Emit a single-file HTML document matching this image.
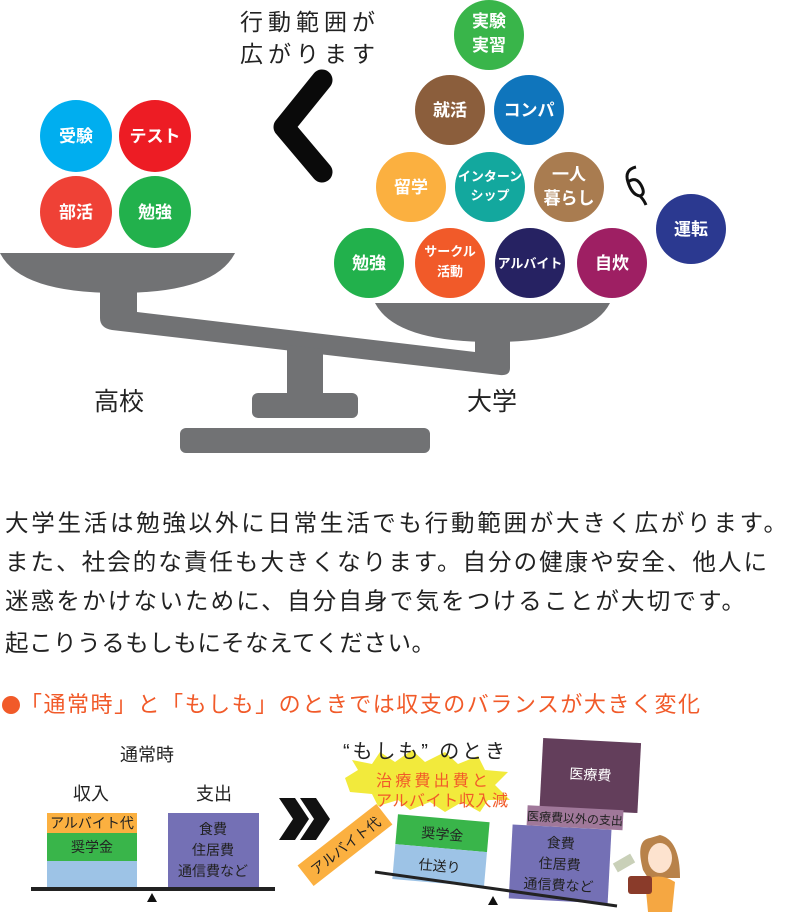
<!DOCTYPE html>
<html><head><meta charset="utf-8"><style>
html,body{margin:0;padding:0;background:#fff;}
svg{display:block;}
text{font-family:"Liberation Sans","Noto Sans CJK JP",sans-serif;}
</style></head><body>
<svg width="810" height="912" viewBox="0 0 810 912" xmlns="http://www.w3.org/2000/svg">
<g fill="#717274">
<path d="M0,253 L235,253 Q215,293 118,293 Q20,293 0,253 Z"/>
<path d="M375,303 L610,303 Q590,342 492,342 Q395,342 375,303 Z"/>
<path d="M100,285 L137,285 L137,312 L475,352 L475,330 L510,330 L510,368 Q510,376 500,375 L112,330 Q100,328 100,318 Z"/>
<polygon points="287,345 323,349 323,395 287,395"/>
<rect x="252" y="393" width="106" height="25" rx="6"/>
<rect x="180" y="428" width="250" height="25" rx="6"/>
</g>
<text x="94" y="410" font-size="25" fill="#222">高校</text>
<text x="467" y="410" font-size="25" fill="#222">大学</text>
<text x="240" y="30" font-size="23" fill="#222" textLength="135">行動範囲が</text>
<text x="240" y="62" font-size="23" fill="#222" textLength="135">広がります</text>
<path d="M322,80 L284,127 L322,172" fill="none" stroke="#0a0a0a" stroke-width="21" stroke-linecap="round" stroke-linejoin="round"/>
<path d="M636,167 Q624,170 628,182 Q632,195 640,196 Q646,194 641,185 Q636,176 628,182 M640,196 Q644,200 646,205" fill="none" stroke="#111" stroke-width="3"/>
<g font-size="17" font-weight="bold" fill="#fff" text-anchor="middle">
<ellipse cx="76" cy="136" rx="36" ry="36" fill="#00aeef"/><text x="76" y="142" fill="#fff">受験</text>
<ellipse cx="155" cy="136" rx="36" ry="36" fill="#ed1c24"/><text x="155" y="142" fill="#fff">テスト</text>
<ellipse cx="76" cy="212" rx="36" ry="36" fill="#ef4136"/><text x="76" y="218" fill="#fff">部活</text>
<ellipse cx="155" cy="212" rx="36" ry="36" fill="#22b14c"/><text x="155" y="218" fill="#fff">勉強</text>
<ellipse cx="489" cy="35" rx="35" ry="35" fill="#39b54a"/><text x="489" y="27" fill="#fff">実験</text><text x="489" y="51" fill="#fff">実習</text>
<ellipse cx="450" cy="110" rx="35" ry="35" fill="#8b5e3c"/><text x="450" y="116" fill="#fff">就活</text>
<ellipse cx="529" cy="110" rx="35" ry="35" fill="#0f75bc"/><text x="529" y="116" fill="#fff">コンパ</text>
<ellipse cx="411" cy="187" rx="35" ry="35" fill="#fbb040"/><text x="411" y="193" fill="#fff">留学</text>
<ellipse cx="490" cy="187" rx="35" ry="35" fill="#13a89e"/><text x="490" y="181" fill="#fff" font-size="13">インターン</text><text x="490" y="200" fill="#fff" font-size="13">シップ</text>
<ellipse cx="569" cy="187" rx="35" ry="35" fill="#a97c50"/><text x="569" y="180" fill="#fff">一人</text><text x="569" y="204" fill="#fff">暮らし</text>
<ellipse cx="691" cy="229" rx="35" ry="35" fill="#2b3990"/><text x="691" y="235" fill="#fff">運転</text>
<ellipse cx="369" cy="263" rx="35" ry="35" fill="#22b14c"/><text x="369" y="269" fill="#fff">勉強</text>
<ellipse cx="450" cy="263" rx="35" ry="35" fill="#f15a29"/><text x="450" y="256" fill="#fff" font-size="13">サークル</text><text x="450" y="276" fill="#fff" font-size="13">活動</text>
<ellipse cx="530" cy="263" rx="35" ry="35" fill="#262262"/><text x="530" y="268" fill="#fff" font-size="13">アルバイト</text>
<ellipse cx="612" cy="263" rx="35" ry="35" fill="#9e1f63"/><text x="612" y="269" fill="#fff">自炊</text>
</g>
<g font-size="23.5" fill="#222">
<text x="5" y="531" textLength="782">大学生活は勉強以外に日常生活でも行動範囲が大きく広がります。</text>
<text x="5" y="570" textLength="762">また、社会的な責任も大きくなります。自分の健康や安全、他人に</text>
<text x="5" y="609" textLength="740">迷惑をかけないために、自分自身で気をつけることが大切です。</text>
<text x="5" y="651" textLength="430">起こりうるもしもにそなえてください。</text>
</g>
<circle cx="11" cy="705" r="9" fill="#f15a29"/>
<text x="20" y="712" font-size="22" fill="#f15a29" textLength="680">「通常時」と「もしも」のときでは収支のバランスが大きく変化</text>
<g font-size="18" fill="#222">
<text x="120" y="761">通常時</text>
<text x="73" y="800">収入</text>
<text x="196" y="800">支出</text>
</g>
<rect x="47" y="813" width="90" height="20" fill="#fbb040"/>
<rect x="47" y="833" width="90" height="28" fill="#39b54a"/>
<rect x="47" y="861" width="90" height="27" fill="#9dc3e6"/>
<rect x="168" y="813" width="91" height="75" fill="#7470b5"/>
<g font-size="14" fill="#222" text-anchor="middle">
<text x="92" y="828">アルバイト代</text>
<text x="92" y="852">奨学金</text>
<text x="213" y="834">食費</text>
<text x="213" y="855">住居費</text>
<text x="213" y="876">通信費など</text>
</g>
<rect x="31" y="887" width="244" height="4" fill="#222"/>
<polygon points="152,893 147,902 157,902" fill="#111"/>
<polygon points="279,798 295,798 309,819 295,840 279,840 293,819" fill="#111"/>
<polygon points="300,798 316,798 330,819 316,840 300,840 314,819" fill="#111"/>
<path d="M345,778 L358,770 L352,760 L372,764 L380,752 L395,762 L412,750 L425,762 L445,752 L458,764 L478,756 L485,770 L508,772 L495,785 L510,800 L488,800 L480,812 L462,802 L445,812 L430,802 L410,810 L398,800 L378,806 L372,794 L350,792 Z" fill="#f2ea3c"/>
<text x="343" y="758" font-size="20" fill="#222" textLength="162">“もしも” のとき</text>
<text x="376" y="786" font-size="16" fill="#f15a29" textLength="112">治療費出費と</text>
<text x="376" y="806" font-size="16" fill="#f15a29" textLength="132">アルバイト収入減</text>
<g transform="rotate(-38 345 845)"><rect x="295" y="832" width="100" height="26" fill="#fbb040"/><text x="345" y="851" font-size="14" text-anchor="middle" fill="#222">アルバイト代</text></g>
<g transform="rotate(5 440 850)">
<rect x="395" y="818" width="92" height="30" fill="#39b54a"/>
<rect x="395" y="848" width="92" height="35" fill="#9dc3e6"/>
<text x="441" y="839" font-size="14" text-anchor="middle" fill="#222">奨学金</text>
<text x="441" y="871" font-size="14" text-anchor="middle" fill="#222">仕送り</text>
</g>
<g transform="rotate(3 580 800)">
<rect x="540" y="740" width="98" height="70" fill="#633e5b"/>
<text x="589" y="779" font-size="14" text-anchor="middle" fill="#fff">医療費</text>
<rect x="514" y="828" width="99" height="74" fill="#7470b5"/>
<text x="563" y="849" font-size="14" text-anchor="middle" fill="#222">食費</text>
<text x="563" y="870" font-size="14" text-anchor="middle" fill="#222">住居費</text>
<text x="563" y="891" font-size="14" text-anchor="middle" fill="#222">通信費など</text>
<rect x="528" y="808" width="96" height="20" fill="#a0789a"/>
<text x="576" y="823" font-size="12" text-anchor="middle" fill="#222">医療費以外の支出</text>
</g>
<line x1="375" y1="872" x2="617" y2="906" stroke="#222" stroke-width="3"/>
<polygon points="493,896 488,905 498,905" fill="#111"/>
<path d="M650,838 Q635,840 643,870 L648,878 L680,878 Q680,840 660,835 Z" fill="#b8824a"/>
<ellipse cx="660" cy="858" rx="12" ry="15" fill="#fde3cf"/>
<path d="M645,880 Q660,872 675,882 L672,912 L648,912 Z" fill="#f5a742"/>
<rect x="628" y="876" width="24" height="18" rx="3" fill="#8a3b2a"/>
<rect x="614" y="858" width="20" height="10" fill="#c9d0b8" transform="rotate(-30 624 863)"/>
</svg>
</body></html>
